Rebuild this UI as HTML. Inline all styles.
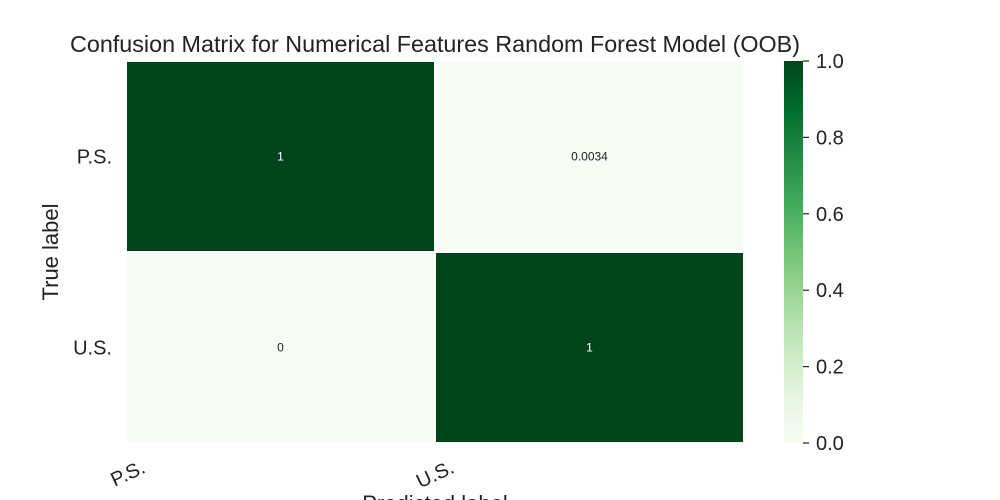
<!DOCTYPE html>
<html><head><meta charset="utf-8"><style>
body{margin:0;background:#fff;}
svg{display:block;font-family:"Liberation Sans","DejaVu Sans",sans-serif;}
</style></head><body>
<svg id="chart" width="1000" height="500">
<defs><linearGradient id="cmap" x1="0" y1="1" x2="0" y2="0">
<stop offset="0" stop-color="#f7fcf5"/><stop offset="0.125" stop-color="#e5f5e0"/>
<stop offset="0.25" stop-color="#c7e9c0"/><stop offset="0.375" stop-color="#a1d99b"/>
<stop offset="0.5" stop-color="#74c476"/><stop offset="0.625" stop-color="#41ab5d"/>
<stop offset="0.75" stop-color="#238b45"/><stop offset="0.875" stop-color="#006d2c"/>
<stop offset="1" stop-color="#00441b"/></linearGradient></defs>
<text x="435" y="52" font-size="23" text-anchor="middle" fill="#222" textLength="730" lengthAdjust="spacingAndGlyphs">Confusion Matrix for Numerical Features Random Forest Model (OOB)</text>
<g id="cells"></g>
<g id="ylabels"></g><g id="xlabels"></g>
<text transform="translate(58,252) rotate(-90)" font-size="22" text-anchor="middle" fill="#222">True label</text>
<text x="435" y="511" font-size="22" text-anchor="middle" fill="#222">Predicted label</text>
<rect x="784" y="61" width="19" height="382" fill="url(#cmap)"/>
<g id="cbticks"></g>
</svg>
<script>
const labels=["P.S.","U.S."];
const values=[[1,0.0034],[0,1]];
const annot=["1","0.0034","0","1"];
const cbTicks=[0,0.2,0.4,0.6,0.8,1.0];
const ns="http://www.w3.org/2000/svg";
const X0=126,Y0=61,W=618,H=382,n=labels.length,cw=W/n,ch=H/n;
const stops=[[247,252,245],[229,245,224],[199,233,192],[161,217,155],[116,196,118],[65,171,93],[35,139,69],[0,109,44],[0,68,27]];
function color(v){const t=Math.max(0,Math.min(1,v))*8;const i=Math.min(7,Math.floor(t)),f=t-i;const a=stops[i],b=stops[i+1];return`rgb(${a.map((c,k)=>Math.round(c+(b[k]-c)*f)).join(",")})`;}
function mk(tag,attrs,parent){const e=document.createElementNS(ns,tag);for(const k in attrs)e.setAttribute(k,attrs[k]);parent.appendChild(e);return e;}
const cells=document.getElementById("cells");
values.forEach((row,r)=>row.forEach((v,c)=>{
 const rect=mk("rect",{x:X0+c*cw,y:Y0+r*ch,width:cw,height:ch,fill:color(v),stroke:"#fff","stroke-width":2},cells);
 
 
 const t=mk("text",{x:X0+(c+0.5)*cw,y:Y0+(r+0.5)*ch+4,"font-size":12,"text-anchor":"middle",fill:v>0.5?"#fff":"#222"},cells);
 t.textContent=annot[r*n+c];
 
 
}));
const yl=document.getElementById("ylabels"),xl=document.getElementById("xlabels");
labels.forEach((l,i)=>{
 const t=mk("text",{x:112,y:Y0+(i+0.5)*ch+7,"font-size":20,"text-anchor":"end",fill:"#222"},yl);
 t.textContent=l;
 
 
 const cx=X0+(i+0.5)*cw;
 const u=mk("text",{transform:`translate(${cx-134},${472}) rotate(-25)`,"font-size":20,"text-anchor":"end",fill:"#222"},xl);
 u.textContent=l;
 
 
});
const cb=document.getElementById("cbticks");
cbTicks.forEach(v=>{
 const y=443-v*382;
 const ln=mk("line",{x1:803,x2:809,y1:y,y2:y,stroke:"#222","stroke-width":1.2},cb);
 
 
 const t=mk("text",{x:816,y:y+7,"font-size":20,fill:"#222"},cb);
 t.textContent=v.toFixed(1);
 
 
});
</script>
</body></html>
